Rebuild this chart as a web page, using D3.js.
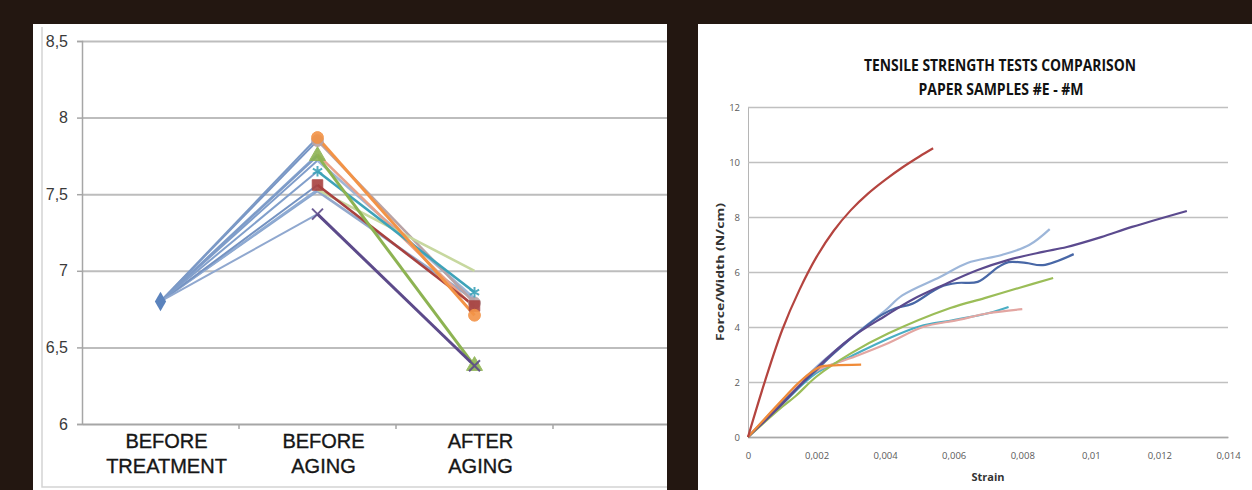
<!DOCTYPE html>
<html>
<head>
<meta charset="utf-8">
<script src="https://cdn.jsdelivr.net/npm/d3@7"></script>
<style>
  body { margin: 0; background: #231711; }
  svg { display: block; }
</style>
</head>
<body>
<svg id="chart" width="1252" height="490"></svg>
<script>
// ---------- left chart data (pH by stage) ----------
const stages = ["BEFORE TREATMENT", "BEFORE AGING", "AFTER AGING", ""];
const phTicks = [6, 6.5, 7, 7.5, 8, 8.5];

const phA = [6.8, 7.52, 6.81];
const phB = [6.8, 7.72, 6.82];
const phC = [6.8, 7.85, 6.79];
const phD = [6.8, 7.76, 6.76];
const phE = [6.8, 7.53, 7.0];
const phF = [6.8, 7.56, 6.77];
const phG = [6.8, 7.65, 6.86];
const phH = [6.8, 7.87, 6.71];
const phI = [6.8, 7.75, 6.38];
const phJ = [6.8, 7.37, 6.38];

// ---------- right chart data (force/width vs strain) ----------
const strainTicks = [0, 0.002, 0.004, 0.006, 0.008, 0.01, 0.012, 0.014];
const forceTicks = [0, 2, 4, 6, 8, 10, 12];

const curve1 = [[0,0],[0.0005,2.05],[0.001,3.9],[0.0015,5.35],[0.002,6.55],[0.0025,7.5],[0.003,8.25],[0.0035,8.85],[0.004,9.35],[0.0045,9.8],[0.005,10.2],[0.0054,10.5]];
const curve2 = [[0,0],[0.001,1.3],[0.002,2.55],[0.003,3.6],[0.004,4.6],[0.0045,5.15],[0.0056,5.82],[0.0064,6.33],[0.0074,6.62],[0.0082,6.98],[0.0088,7.56]];
const curve3 = [[0,0],[0.001,1.25],[0.002,2.44],[0.0025,3.04],[0.0033,3.89],[0.0039,4.44],[0.0043,4.68],[0.0048,4.85],[0.0056,5.45],[0.0061,5.6],[0.0067,5.64],[0.0073,6.18],[0.0076,6.36],[0.0081,6.33],[0.0086,6.25],[0.0095,6.65]];
const curve4 = [[0,0],[0.001,1.2],[0.002,2.5],[0.003,3.6],[0.004,4.4],[0.0048,5.0],[0.0057,5.53],[0.0067,6.07],[0.0076,6.44],[0.0086,6.73],[0.0093,6.91],[0.0103,7.27],[0.0112,7.64],[0.0128,8.22]];
const curve5 = [[0,0],[0.001,1.1],[0.0014,1.5],[0.002,2.2],[0.003,3.04],[0.0041,3.77],[0.0059,4.69],[0.0069,5.05],[0.0079,5.42],[0.0089,5.78]];
const curve6 = [[0,0],[0.001,1.2],[0.002,2.33],[0.003,2.93],[0.004,3.53],[0.005,4.02],[0.006,4.25],[0.007,4.5],[0.0076,4.73]];
const curve7 = [[0,0],[0.001,1.3],[0.002,2.4],[0.003,2.87],[0.0041,3.42],[0.0051,4.0],[0.0061,4.25],[0.007,4.5],[0.008,4.65]];
const curve8 = [[0,0],[0.001,1.35],[0.0015,2.0],[0.0021,2.55],[0.0025,2.6],[0.0033,2.63]];

const svg = d3.select("#chart");

// panels
svg.append("rect").attr("x", 33).attr("y", 24).attr("width", 634).attr("height", 466).attr("fill", "#fff");
svg.append("rect").attr("x", 698).attr("y", 24).attr("width", 554).attr("height", 466).attr("fill", "#fff");
svg.append("path").attr("d", "M42,27V487H667").attr("fill", "none").attr("stroke", "#d4d4d4").attr("stroke-width", 1.5);

// ================= left chart =================
const left = svg.append("g");
left.append("clipPath").attr("id", "leftClip")
  .append("rect").attr("x", 33).attr("y", 24).attr("width", 634).attr("height", 466);
const L = left.append("g").attr("clip-path", "url(#leftClip)");

let xStage = d3.scaleBand().domain(stages).range([82, 82 + 4 * 157]).padding(0);
let yPh = d3.scaleLinear().domain([6, 8.5]).range([424, 41]);

// grid
L.append("g")
  .attr("transform", "translate(82,0)")
  .call(d3.axisLeft(yPh).tickValues(phTicks.slice(1)).tickSize(-640).tickFormat(""))
  .call(g => g.select(".domain").remove())
  .selectAll("line").attr("stroke", "#bdbdbd").attr("stroke-width", 2);

// y axis
L.append("g")
  .attr("transform", "translate(82,0)")
  .call(d3.axisLeft(yPh).tickValues(phTicks).tickSize(5).tickPadding(9)
    .tickFormat(d => String(d).replace(".", ",")))
  .call(g => g.select(".domain").attr("stroke", "#a6a6a6").attr("stroke-width", 1.5))
  .call(g => g.selectAll("line").attr("stroke", "#a6a6a6").attr("stroke-width", 1.5))
  .selectAll("text")
    .attr("font-family", "'Liberation Sans Narrow', 'Liberation Sans', sans-serif")
    .attr("font-size", 16).attr("fill", "#3a3a3a");

// x axis line and boundary ticks
L.append("g")
  .attr("transform", "translate(0," + yPh(6) + ")")
  .call(d3.axisBottom(xStage).tickSize(0).tickFormat(""))
  .select(".domain").attr("stroke", "#a6a6a6").attr("stroke-width", 2);
L.selectAll("line.stageTick")
  .data(stages)
  .enter().append("line")
  .attr("class", "stageTick")
  .attr("x1", d => xStage(d) + xStage.bandwidth()).attr("x2", d => xStage(d) + xStage.bandwidth())
  .attr("y1", yPh(6)).attr("y2", yPh(6) + 5)
  .attr("stroke", "#a6a6a6").attr("stroke-width", 1.5);

// category labels
const stageLabels = L.selectAll("text.stage")
  .data(stages.filter(s => s !== ""))
  .enter().append("text")
  .attr("class", "stage")
  .attr("text-anchor", "middle")
  .attr("font-family", "'Liberation Sans', Arial, sans-serif")
  .attr("font-size", 20)
  .attr("fill", "#161616")
  .attr("stroke", "#161616")
  .attr("stroke-width", 0.35);
stageLabels.each(function (d) {
  const words = d.split(" ");
  const cx = xStage(d) + xStage.bandwidth() / 2 + 6;
  words.forEach((w, i) => {
    d3.select(this).append("tspan").attr("x", cx).attr("y", 448 + i * 25).text(w);
  });
});

const phSeries = [phA, phB, phC, phD, phE, phF, phG, phH, phI, phJ];
const phLead = ["#8aa6cf", "#7f9dca", "#7896c4", "#86a3cd", "#8fabd3", "#7593c2", "#819fcb", "#7b99c6", "#7d9bc8", "#90a8cf"];
const phColors = ["#93a9cc", "#9fb6d6", "#b8a3a6", "#e9a189", "#c7d89f", "#a8413f", "#3ea3b9", "#f39346", "#8db352", "#5c4a8a"];
const phMarks = [null, null, d3.symbolCircle, null, null, d3.symbolSquare, d3.symbolAsterisk, d3.symbolCircle, d3.symbolTriangle, d3.symbolX];
const strokeMarks = [d3.symbolAsterisk, d3.symbolX];

// first segments (all blue-ish)
phSeries.forEach((s, i) => {
  L.append("path")
    .datum(s.slice(0, 2))
    .attr("fill", "none")
    .attr("stroke", phLead[i])
    .attr("stroke-width", 2)
    .attr("d", d3.line().x((d, j) => xStage(stages[j]) + xStage.bandwidth() / 2).y(d => yPh(d)));
});
// second segments
phSeries.forEach((s, i) => {
  L.append("path")
    .datum(s.slice(1))
    .attr("fill", "none")
    .attr("stroke", phColors[i])
    .attr("stroke-width", i >= 7 ? 3 : 2.6)
    .attr("d", d3.line().x((d, j) => xStage(stages[j + 1]) + xStage.bandwidth() / 2).y(d => yPh(d)));
});
// markers
phSeries.forEach((s, i) => {
  if (!phMarks[i]) return;
  const stroked = strokeMarks.includes(phMarks[i]);
  [1, 2].forEach(j => {
    L.append("path")
      .attr("d", d3.symbol().type(phMarks[i]).size(stroked ? 80 : 110)())
      .attr("transform", "translate(" + (xStage(stages[j]) + xStage.bandwidth() / 2) + "," + yPh(s[j]) + ")")
      .attr("fill", stroked ? "none" : phColors[i])
      .attr("stroke", phColors[i])
      .attr("stroke-width", stroked ? 2 : 1)
      .attr("opacity", 0.9);
  });
});
// starting diamond
L.append("path")
  .attr("d", d3.symbol().type(d3.symbolDiamond).size(110)())
  .attr("transform", "translate(" + (xStage(stages[0]) + xStage.bandwidth() / 2) + "," + yPh(phA[0]) + ")")
  .attr("fill", "#5b83bd");

// ================= right chart =================
const R = svg.append("g");
let xStrain = d3.scaleLinear().domain([0, 0.014]).range([748, 1228]);
let yForce = d3.scaleLinear().domain([0, 12]).range([437, 107]);
const fmt = d => String(d).replace(".", ",");

R.append("g")
  .attr("transform", "translate(748,0)")
  .call(d3.axisLeft(yForce).tickValues(forceTicks).tickSize(-480).tickPadding(8).tickFormat(fmt))
  .call(g => g.select(".domain").attr("stroke", "#b5b5b5"))
  .call(g => g.selectAll("line").attr("stroke", "#c0c0c0").attr("stroke-width", 1.3))
  .selectAll("text")
    .attr("font-family", "'Open Sans', sans-serif")
    .attr("font-size", 9.5).attr("fill", "#5a5a5a");

R.append("g")
  .attr("transform", "translate(0,437)")
  .call(d3.axisBottom(xStrain).tickValues(strainTicks).tickSize(0).tickPadding(15).tickFormat(fmt))
  .call(g => g.select(".domain").attr("stroke", "#a8a8a8").attr("stroke-width", 1.3))
  .selectAll("text")
    .attr("font-family", "'Open Sans', sans-serif")
    .attr("font-size", 9.5).attr("fill", "#5a5a5a");

const curves = [curve2, curve6, curve7, curve5, curve3, curve4, curve8, curve1];
const curveColors = ["#9db6d9", "#4aaec4", "#e3a6a2", "#9bbd58", "#4867a6", "#5b4a8e", "#f08b38", "#b4443f"];
const forceLine = d3.line().x(d => xStrain(d[0])).y(d => yForce(d[1])).curve(d3.curveCatmullRom.alpha(0.5));
curves.forEach((c, i) => {
  R.append("path")
    .datum(c)
    .attr("fill", "none")
    .attr("stroke", curveColors[i])
    .attr("stroke-width", 2.2)
    .attr("d", forceLine);
});

// titles
R.append("text").attr("x", 1000).attr("y", 71).attr("text-anchor", "middle")
  .attr("font-family", "'Open Sans', sans-serif").attr("font-weight", "bold").attr("font-size", 16)
  .attr("textLength", 272).attr("lengthAdjust", "spacingAndGlyphs").attr("fill", "#111")
  .text("TENSILE STRENGTH TESTS COMPARISON");
R.append("text").attr("x", 1001).attr("y", 95).attr("text-anchor", "middle")
  .attr("font-family", "'Open Sans', sans-serif").attr("font-weight", "bold").attr("font-size", 16)
  .attr("textLength", 165).attr("lengthAdjust", "spacingAndGlyphs").attr("fill", "#111")
  .text("PAPER SAMPLES #E - #M");
R.append("text").attr("x", 988).attr("y", 481).attr("text-anchor", "middle")
  .attr("font-family", "'Open Sans', sans-serif").attr("font-weight", "bold").attr("font-size", 11)
  .attr("fill", "#333").text("Strain");
R.append("text").attr("transform", "translate(724,272) rotate(-90)").attr("text-anchor", "middle")
  .attr("font-family", "'Open Sans', sans-serif").attr("font-weight", "bold").attr("font-size", 11)
  .attr("textLength", 138).attr("lengthAdjust", "spacingAndGlyphs")
  .attr("fill", "#333").text("Force/Width (N/cm)");
</script>
</body>
</html>
